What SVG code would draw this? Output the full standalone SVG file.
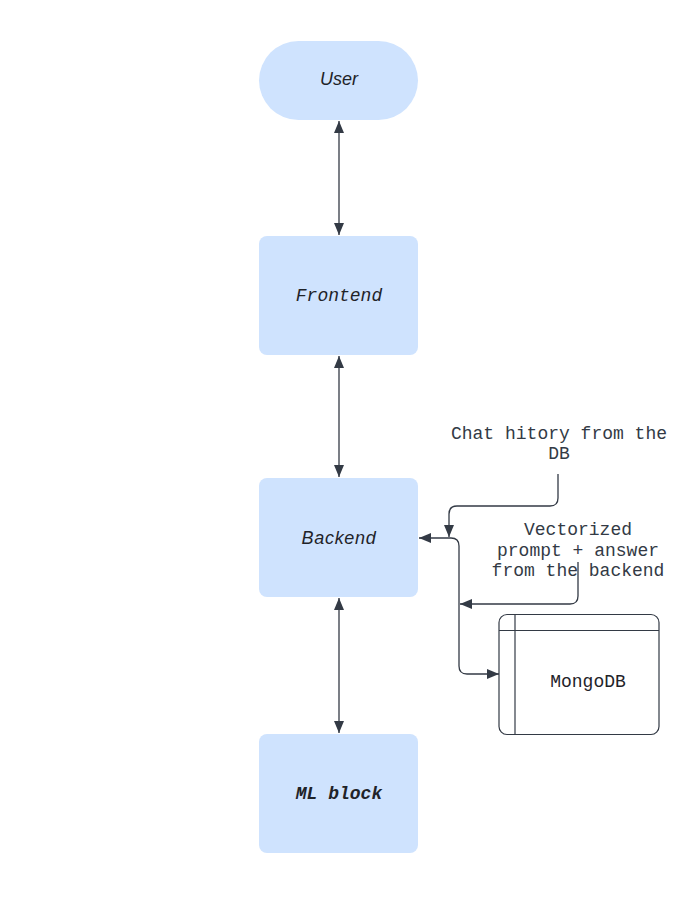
<svg xmlns="http://www.w3.org/2000/svg" width="700" height="915" viewBox="0 0 700 915">
<style>
.node{fill:#cfe3fe;}
.lbl{font-size:18px;fill:#1f2329;text-anchor:middle;dominant-baseline:central;}
.sans{font-family:"Liberation Sans",Arial,sans-serif;font-style:italic;}
.mono{font-family:"Liberation Mono","Courier New",monospace;}
.note{font-family:"Liberation Mono","Courier New",monospace;font-size:18px;fill:#333a45;text-anchor:middle;}
.edge{fill:none;stroke:#333a45;stroke-width:1.3;}
</style>
<defs>
<marker id="ah" viewBox="0 0 12 10" refX="12" refY="5" markerWidth="12" markerHeight="10" markerUnits="userSpaceOnUse" orient="auto-start-reverse">
<path d="M0,0 L12,5 L0,10 z" fill="#333a45"/>
</marker>
</defs>
<rect width="700" height="915" fill="#ffffff"/>
<g id="user">
<rect class="node" x="259" y="41" width="159" height="79" rx="39.5"/>
<text class="lbl sans" x="339" y="79">User</text>
</g>
<g id="frontend">
<rect class="node" x="259" y="236" width="159" height="119" rx="8"/>
<text class="lbl mono" x="339" y="296" font-style="italic">Frontend</text>
</g>
<g id="backend">
<rect class="node" x="259" y="478" width="159" height="119" rx="8"/>
<text class="lbl sans" x="339" y="538" letter-spacing="0.7">Backend</text>
</g>
<g id="mlblock">
<rect class="node" x="259" y="734" width="159" height="119" rx="8"/>
<text class="lbl mono" x="339" y="794" font-style="italic" font-weight="bold" fill="#333a45">ML block</text>
</g>
<g id="mongodb">
<rect x="499" y="614.5" width="160" height="120" rx="8" fill="#ffffff" stroke="#333a45" stroke-width="1.2"/>
<line x1="515" y1="614.5" x2="515" y2="734.5" stroke="#333a45" stroke-width="1.2"/>
<line x1="499" y1="630.5" x2="659" y2="630.5" stroke="#333a45" stroke-width="1.2"/>
<text class="lbl mono" x="588" y="682" fill="#333a45">MongoDB</text>
</g>
<g id="notes">
<text class="note" x="559" y="439">Chat hitory from the</text>
<text class="note" x="559" y="459">DB</text>
<text class="note" x="578" y="535">Vectorized</text>
<text class="note" x="578" y="556">prompt + answer</text>
<text class="note" x="578" y="576">from the backend</text>
</g>
<g id="connectors">
<path class="edge" d="M339,121 L339,235" marker-start="url(#ah)" marker-end="url(#ah)"/>
<path class="edge" d="M339,356 L339,477" marker-start="url(#ah)" marker-end="url(#ah)"/>
<path class="edge" d="M339,598 L339,733" marker-start="url(#ah)" marker-end="url(#ah)"/>
<path class="edge" d="M419,538 L451,538 Q459,538 459,546 L459,666 Q459,674 467,674 L499,674" marker-start="url(#ah)" marker-end="url(#ah)"/>
<path class="edge" d="M558,474 L558,498 Q558,506 550,506 L457,506 Q449,506 449,514 L449,537" marker-end="url(#ah)"/>
<path class="edge" d="M578,562 L578,596 Q578,604 570,604 L460,604" marker-end="url(#ah)"/>
</g>
</svg>
